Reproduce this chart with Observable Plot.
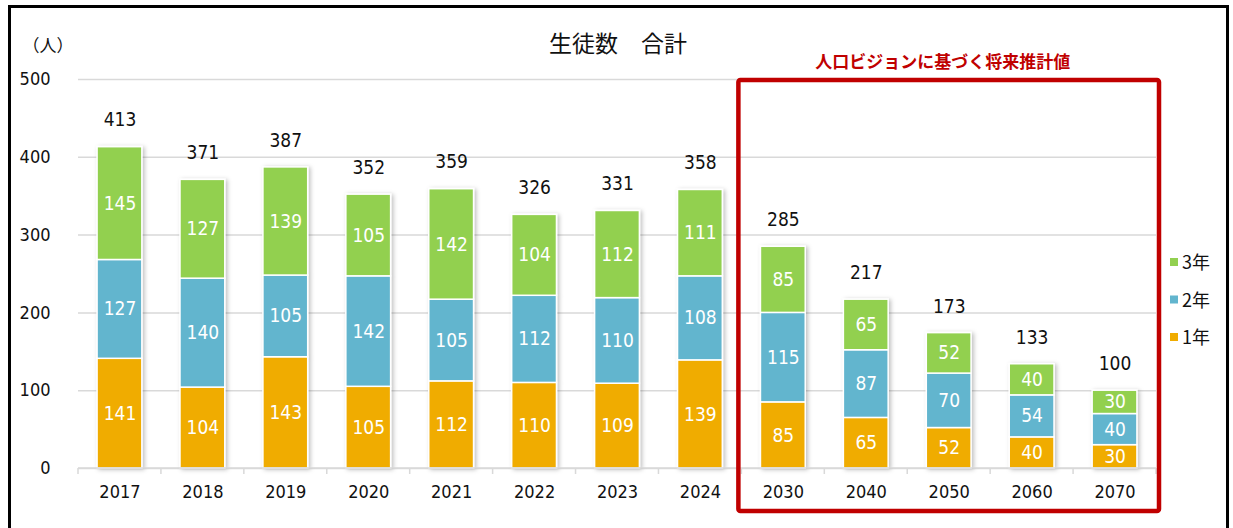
<!DOCTYPE html>
<html><head><meta charset="utf-8">
<script src="https://cdn.jsdelivr.net/npm/d3@7"></script>
<script src="https://cdn.jsdelivr.net/npm/@observablehq/plot@0.6"></script>
<style>
html,body{margin:0;padding:0;background:#fff;}
#chart{position:relative;width:1233px;height:528px;overflow:hidden;}
</style></head>
<body><div id="chart"></div>
<script>
const years = ["2017","2018","2019","2020","2021","2022","2023","2024","2030","2040","2050","2060","2070"];
const grade1 = [141,104,143,105,112,110,109,139,85,65,52,40,30];
const grade2 = [127,140,105,142,105,112,110,108,115,87,70,54,40];
const grade3 = [145,127,139,105,142,104,112,111,85,65,52,40,30];
const totals = [413,371,387,352,359,326,331,358,285,217,173,133,100];
const seriesNames = ["1年","2年","3年"];
const colors = ["#F0AC00","#62B5CE","#92D050"];
const yTicks = [0,100,200,300,400,500];
const projectionYears = ["2030","2040","2050","2060","2070"];

const rows = [];
[grade1, grade2, grade3].forEach((arr, si) => arr.forEach((v, i) => rows.push({year: years[i], series: seriesNames[si], value: v})));
const totalRows = years.map((y, i) => ({year: y, total: totals[i], label: String(totals[i])}));

const numFont = "'DejaVu Sans Condensed','Liberation Sans Narrow',sans-serif";
const jpFont = "'Noto Sans CJK JP',sans-serif";

const plot = Plot.plot({
  width: 1233, height: 528,
  marginLeft: 78, marginRight: 77, marginTop: 79, marginBottom: 60,
  style: {fontFamily: numFont, background: "transparent"},
  x: {domain: years, paddingInner: 0.46, paddingOuter: 0.23, round: false, label: null},
  y: {domain: [0, 500], label: null},
  color: {domain: seriesNames, range: colors},
  marks: [
    Plot.ruleY(yTicks, {stroke: "#d9d9d9", strokeWidth: 1.5}),
    Plot.ruleX([0], {frameAnchor: "left", stroke: "#d9d9d9", strokeWidth: 1.5}),
    Plot.barY(rows, {x: "year", y: "value", fill: "series", z: "series", stroke: "#fff", strokeWidth: 1.5, order: seriesNames}),
    Plot.text(rows, Plot.stackY({x: "year", y: "value", z: "series", text: d => String(d.value), fill: "#fff", fontSize: 19, order: seriesNames})),
    Plot.text(totalRows, {x: "year", y: "total", text: "label", dy: -27, fill: "#111", fontSize: 19}),
    Plot.axisY(yTicks, {tickSize: 0, tickPadding: 28, fontSize: 18, fill: "#111", label: null}),
    Plot.axisX({tickSize: 0, tickPadding: 17, fontSize: 18, fill: "#111", label: null})
  ]
});
document.getElementById("chart").appendChild(plot);

const svg = d3.select(plot);
const xs = plot.scale("x");
const ysc = plot.scale("y");
const bw = xs.bandwidth;
const step = xs.step;
const defs = svg.insert("defs", ":first-child");
const f = defs.append("filter").attr("id","sh").attr("x","-20%").attr("y","-10%").attr("width","150%").attr("height","130%");
f.append("feDropShadow").attr("dx",2).attr("dy",1).attr("stdDeviation",2).attr("flood-color","#000").attr("flood-opacity",0.25);
svg.selectAll("g[aria-label='bar']").attr("filter","url(#sh)");

const y0 = ysc.apply(0);
const bg = svg.append("g");
const first = xs.apply(years[0]);
const pad = (step - bw) / 2;
for (let i = 0; i <= years.length; i++) {
  const xb = first - pad + i * step;
  bg.append("line").attr("x1", xb).attr("x2", xb).attr("y1", y0).attr("y2", y0 + 6).attr("stroke", "#d9d9d9").attr("stroke-width", 1.5);
}
bg.append("line").attr("x1", first - pad).attr("x2", first - pad + years.length * step).attr("y1", y0).attr("y2", y0).attr("stroke", "#d9d9d9").attr("stroke-width", 1.5);

svg.append("rect").attr("x", 9.5).attr("y", 6.5).attr("width", 1218).attr("height", 600).attr("fill", "none").attr("stroke", "#000").attr("stroke-width", 3);

svg.append("text").attr("x", 618).attr("y", 52).attr("text-anchor", "middle").attr("font-family", jpFont).attr("font-size", 23).attr("fill", "#111").text("生徒数　合計");
svg.append("text").attr("x", 48).attr("y", 52).attr("text-anchor", "middle").attr("font-family", jpFont).attr("font-size", 17).attr("fill", "#111").text("（人）");

const bx1 = xs.apply(projectionYears[0]) - pad - 3;
const bx2 = xs.apply(projectionYears[projectionYears.length - 1]) + bw + pad + 3;
svg.append("rect").attr("x", bx1).attr("y", 80).attr("width", bx2 - bx1).attr("height", 431).attr("rx", 2).attr("fill", "none").attr("stroke", "#C00000").attr("stroke-width", 4.5);
svg.append("text").attr("x", (bx1 + bx2) / 2 - 6).attr("y", 68).attr("text-anchor", "middle").attr("font-family", jpFont).attr("font-weight", "bold").attr("font-size", 17).attr("fill", "#C00000").text("人口ビジョンに基づく将来推計値");

const lg = svg.append("g");
const legendItems = [["3年", colors[2]], ["2年", colors[1]], ["1年", colors[0]]];
legendItems.forEach(([name, c], i) => {
  const cy = 262 + i * 37.5;
  lg.append("rect").attr("x", 1170).attr("y", cy - 4).attr("width", 8).attr("height", 8).attr("fill", c);
  lg.append("text").attr("x", 1182).attr("y", cy + 7).attr("text-anchor", "start").attr("font-family", jpFont).attr("font-size", 18).attr("fill", "#111").text(name);
});
</script>
</body></html>
